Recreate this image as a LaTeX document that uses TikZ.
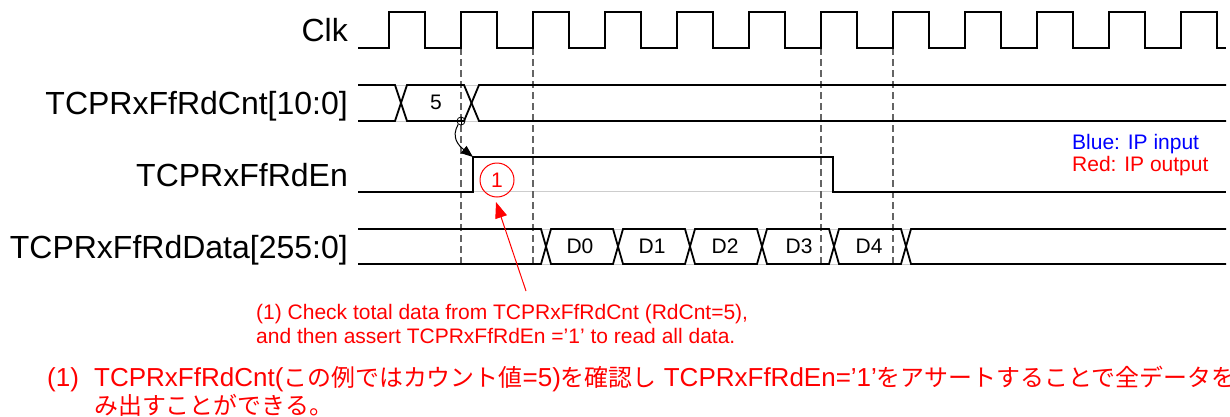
\documentclass[tikz,border=0pt]{standalone}
\usepackage{fontspec}
\setmainfont{Liberation Sans}
\newfontfamily\jpfont{Noto Sans CJK JP}[Scale=0.92]
\usetikzlibrary{arrows.meta}
\newcommand{\jp}[1]{{\jpfont #1}}
\definecolor{sigred}{RGB}{255,0,0}
\definecolor{sigblue}{RGB}{0,0,255}
\definecolor{dashgray}{RGB}{100,100,100}
\definecolor{ghostgray}{RGB}{205,205,205}

\begin{document}
\begin{tikzpicture}[x=1pt,y=-1pt,
  wave/.style={line width=1.8pt, line join=miter},
  ghost/.style={line width=1pt, draw=ghostgray},
  edgeguide/.style={draw=dashgray, line width=1.4pt, dash pattern=on 7pt off 4pt},
  siglabel/.style={anchor=base east, inner sep=0pt, font=\fontsize{32}{36}\selectfont},
  busval/.style={inner sep=0pt, font=\fontsize{21}{24}\selectfont},
  note/.style={anchor=base west, inner sep=0pt, text=sigred, font=\fontsize{21}{24}\selectfont},
  jpnote/.style={anchor=base west, inner sep=0pt, text=sigred, font=\fontsize{26}{30}\selectfont},
  legend/.style={anchor=base west, inner sep=0pt, font=\fontsize{21}{24}\selectfont},
]
\useasboundingbox (0,0) rectangle (1230,416);

% signal names
\node[siglabel] (lblclk)  at (348,41.5) {Clk};
\node[siglabel] (lblcnt)  at (348,114.5) {TCPRxFfRdCnt[10:0]};
\node[siglabel] (lblen)   at (348,186) {TCPRxFfRdEn};
\node[siglabel] (lbldata) at (348,258) {TCPRxFfRdData[255:0]};

% faint baselines under the waveforms
\draw[ghost] (358,85) -- (1226,85) (358,121) -- (1226,121);
\draw[ghost] (473,191) -- (833,191);
\draw[ghost] (358,229) -- (1226,229) (358,264) -- (1226,264);

% clock edge guides
\foreach \gx in {461,533,821,893}
  \draw[edgeguide] (\gx,48) -- (\gx,265);

% clock
\draw[wave] (358,48)
  \foreach \k in {0,...,11} {
    -- ({389+72*\k},48) -- ({389+72*\k},12) -- ({425+72*\k},12) -- ({425+72*\k},48)
  } -- (1226,48);

% read counter bus
\draw[wave] (358,85) -- (395,85) -- (407,121) -- (464,121) -- (479,85) -- (1226,85);
\draw[wave] (358,121) -- (395,121) -- (407,85) -- (464,85) -- (479,121) -- (1226,121);
\node[busval] (v5) at (436,102) {5};

% read enable
\draw[wave] (358,192) -- (473,192) -- (473,157) -- (833,157) -- (833,192) -- (1226,192);

% read data bus
\draw[wave] (358,229) -- (541,229) -- (551,264) -- (613,264) -- (623,229) -- (685,229)
  -- (695,264) -- (757,264) -- (767,229) -- (829,229) -- (839,264) -- (901,264)
  -- (911,229) -- (1226,229);
\draw[wave] (358,264) -- (541,264) -- (551,229) -- (613,229) -- (623,264) -- (685,264)
  -- (695,229) -- (757,229) -- (767,264) -- (829,264) -- (839,229) -- (901,229)
  -- (911,264) -- (1226,264);
\node[busval] (d0) at (580,246.5) {D0};
\node[busval] (d1) at (652,246.5) {D1};
\node[busval] (d2) at (725,246.5) {D2};
\node[busval] (d3) at (799,246.5) {D3};
\node[busval] (d4) at (869,246.5) {D4};

% count check triggers the enable
\node[draw, circle, line width=0.8pt, minimum size=8pt, inner sep=0pt] (cntmk) at (461,121) {};
\draw[line width=0.8pt] (cntmk.north) -- (cntmk.south) (cntmk.west) -- (cntmk.east);
\coordinate (enrise) at (473,157);
\draw[line width=1pt, -{Triangle[length=12pt,width=9pt]}]
  (cntmk.230) .. controls (451,137) and (458,145) .. (enrise);

% step marker and its note
\node[draw=sigred, circle, line width=1pt, minimum size=34pt, inner sep=0pt,
      text=sigred, font=\fontsize{21}{24}\selectfont] (mk1) at (497,180) {1};
\coordinate (notetail) at (526,291);
\coordinate (tip1) at (496,202);
\draw[sigred, line width=1pt, -{Triangle[length=16pt,width=12pt]}] (notetail) -- (tip1);

\node[note] (notea) at (256,319) {(1) Check total data from TCPRxFfRdCnt (RdCnt=5),};
\node[note] (noteb) at (256,343) {and then assert TCPRxFfRdEn =’1' to read all data.};

% legend
\node[legend, text=sigblue] (legin)  at (1072,149) {Blue: IP input};
\node[legend, text=sigred]  (legout) at (1072,171) {Red: IP output};

% Japanese description
\node[jpnote] (jpnum)   at (47,386) {(1)};
\node[jpnote] (jpline1) at (94,386) {TCPRxFfRdCnt(\jp{この例ではカウント値}=5)\jp{を確認し} TCPRxFfRdEn=’1’\jp{をアサートすることで全データを}};
\node[jpnote] (jpline2) at (94,414) {\jp{み出すことができる。}};
\end{tikzpicture}
\end{document}
